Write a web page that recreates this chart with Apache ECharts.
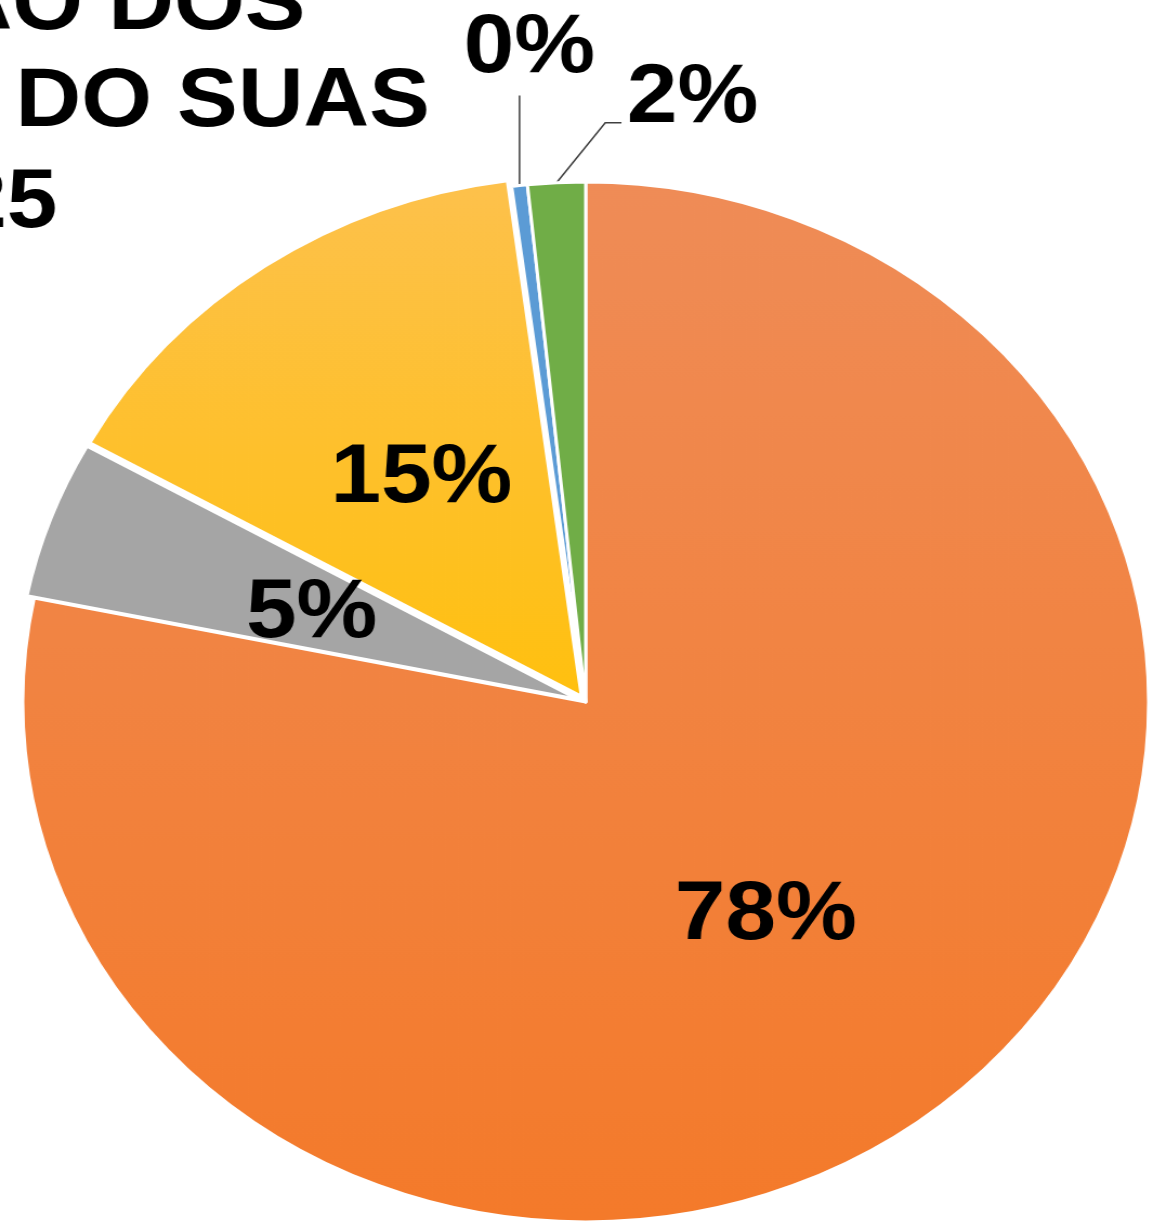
<!DOCTYPE html>
<html>
<head>
<meta charset="utf-8">
<script src="https://cdn.jsdelivr.net/npm/echarts@6/dist/echarts.min.js"></script>
<style>
html, body { margin: 0; padding: 0; background: #fff; overflow: hidden; }
#chart { width: 1066px; height: 1224px; transform: scaleX(1.0826); transform-origin: 0 0; }
</style>
</head>
<body>
<div id="chart"></div>
<script>
// slices, clockwise from 12 o'clock
var sliceNames = ['Fatia 1', 'Fatia 2', 'Fatia 3', 'Fatia 4', 'Fatia 5'];
var sliceValues = [78.2, 4.9, 14.8, 0.45, 1.65];
var titleLines = ['EXECUÇÃO DOS', 'RECURSOS DO SUAS', '2025'];

var colorTop = ['#ef8c57', '#a5a5a5', '#fdc14c', '#5b9bd5', '#70ad47'];
var colorBottom = ['#f47a2a', '#a5a5a5', '#ffc00f', '#5b9bd5', '#70ad47'];
var outsideLabels = [false, false, false, true, true];
var exploded = [false, true, true, false, false];

var chart = echarts.init(document.getElementById('chart'));
var font = '"Liberation Sans", Arial, sans-serif';

var pieData = sliceValues.map(function (v, i) {
    return {
        name: sliceNames[i],
        value: v,
        selected: exploded[i],
        itemStyle: {
            color: new echarts.graphic.LinearGradient(0, 0, 0, 1, [
                { offset: 0, color: colorTop[i] },
                { offset: 1, color: colorBottom[i] }
            ])
        },
        label: { position: outsideLabels[i] ? 'outside' : 'inside' }
    };
});

var titleRight = [282, 397, 53];
var titleY = [6, 103, 204];

var option = {
    backgroundColor: '#fff',
    animation: false,
    graphic: titleLines.map(function (t, i) {
        return {
            type: 'text',
            x: titleRight[i],
            y: titleY[i],
            style: {
                text: t,
                font: 'bold 84px ' + font,
                fill: '#000',
                align: 'right',
                verticalAlign: 'middle',
                textAlign: 'right',
                textVerticalAlign: 'middle'
            }
        };
    }),
    series: [{
        type: 'pie',
        center: [541, 702],
        radius: 520,
        startAngle: 90,
        clockwise: true,
        selectedMode: 'multiple',
        selectedOffset: 7,
        avoidLabelOverlap: false,
        emphasis: { disabled: true },
        itemStyle: { borderColor: '#fff', borderWidth: 3 },
        label: {
            show: true,
            color: '#000',
            fontFamily: font,
            fontWeight: 'bold',
            fontSize: 84,
            formatter: function (p) { return Math.round(p.percent) + '%'; }
        },
        labelLine: {
            show: true,
            length: 80,
            length2: 10,
            lineStyle: { color: '#404040', width: 1.5 }
        },
        labelLayout: function (p) {
            if (p.dataIndex === 0) return { dy: 10 };
            if (p.dataIndex === 1) return { dy: 6 };
            var pts = p.labelLinePoints;
            if (!pts || (p.dataIndex !== 3 && p.dataIndex !== 4)) return {};
            var x0 = pts[0][0], y0 = pts[0][1];
            if (p.dataIndex === 3) {
                return {
                    x: x0 + 9, y: y0 - 137,
                    align: 'center', verticalAlign: 'middle',
                    labelLinePoints: [[x0, y0], [x0, y0 - 90], [x0, y0 - 90]]
                };
            }
            return {
                x: x0 + 65, y: y0 - 84,
                align: 'left', verticalAlign: 'middle',
                labelLinePoints: [[x0, y0], [x0 + 45, y0 - 60], [x0 + 60, y0 - 60]]
            };
        },
        data: pieData
    }]
};

chart.setOption(option);
</script>
</body>
</html>
